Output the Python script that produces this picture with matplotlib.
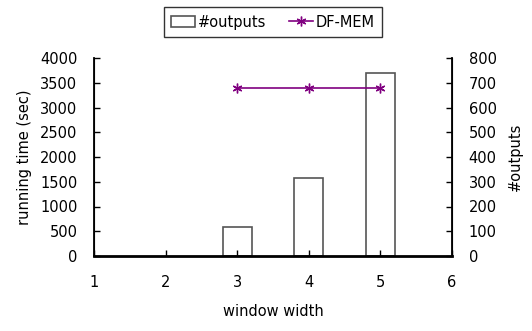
import matplotlib.pyplot as plt

plt.rcParams['font.family'] = ['DejaVu Sans']

window = [3, 4, 5]
outputs = [116, 316, 738]
df_mem = [3400, 3400, 3400]

fig = plt.figure(figsize=(5.32, 3.31), dpi=100)
ax = fig.add_axes([94 / 532, 75 / 331, 358 / 532, 198 / 331])
ax2 = ax.twinx()

# bars for the output count on the right-hand scale
bars = ax2.bar(window, outputs, width=0.4, facecolor='white',
               edgecolor='#555555', linewidth=1.2, label='#outputs', zorder=1)
ax2.set_ylim(0, 800)
ax2.set_yticks(range(0, 801, 100))
ax2.set_ylabel('#outputs', fontsize=10.5, labelpad=8)

line, = ax.plot(window, df_mem, color='#800080', marker=(6, 2, 0),
                markersize=7, linewidth=1.2, label='DF-MEM')
ax.set_ylim(0, 4000)
ax.set_yticks(range(0, 4001, 500))
ax.set_xlim(1, 6)
ax.set_xticks(range(1, 7))
ax.set_ylabel('running time (sec)', fontsize=10.5, labelpad=6)
ax.set_xlabel('window width', fontsize=10.5, labelpad=10)

# line on top of the bars
ax.set_zorder(ax2.get_zorder() + 1)
ax.patch.set_visible(False)

for a in (ax, ax2):
    a.spines['top'].set_visible(False)
    a.tick_params(direction='in', labelsize=10.5, length=4, width=1)
ax.spines['bottom'].set_linewidth(2)
ax.spines['left'].set_linewidth(1.3)
ax2.spines['right'].set_linewidth(1.3)
ax.tick_params(axis='x', pad=14)
ax.tick_params(axis='y', pad=12)
ax2.tick_params(axis='y', pad=12)

fig.legend([bars, line], ['#outputs', 'DF-MEM'], loc='upper center',
           bbox_to_anchor=(273 / 532, 1.0), ncol=2, fontsize=10.5,
           frameon=True, fancybox=False, edgecolor='black',
           handlelength=1.6, handletextpad=0.2, columnspacing=1.6,
           borderpad=0.5)

fig.savefig('out.png', dpi=100)
